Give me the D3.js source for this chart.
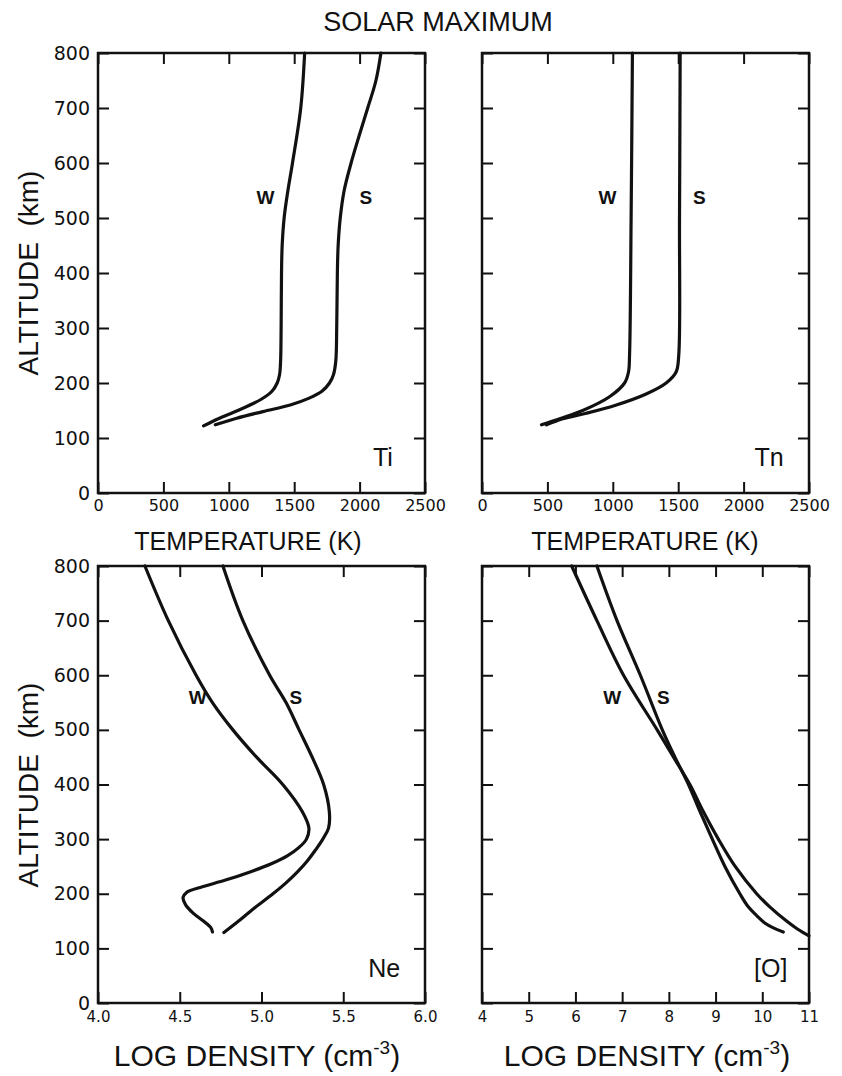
<!DOCTYPE html>
<html>
<head>
<meta charset="utf-8">
<script src="https://cdn.jsdelivr.net/npm/d3@7.9.0/dist/d3.min.js"></script>
<style>
  body { margin: 0; background: #fff; }
  text { fill: #111; }
  .lbl { font-family: "Liberation Sans", Arial, sans-serif; }
  .tick text { font-family: "DejaVu Sans", sans-serif; fill: #111; }
  .tick line { stroke: #111; stroke-width: 2; }
</style>
</head>
<body>
<script>
// axis ticks
const altTicks = [0, 100, 200, 300, 400, 500, 600, 700, 800];
const tempTicks = [0, 500, 1000, 1500, 2000, 2500];
const neTicks = [4.0, 4.5, 5.0, 5.5, 6.0];
const oTicks = [4, 5, 6, 7, 8, 9, 10, 11];

// Ti (K) vs altitude (km)
const tiWAlt = [800, 700, 600, 550, 500, 450, 400, 300, 240, 215, 200, 185, 170, 150, 135, 122];
const tiW    = [1580, 1550, 1487, 1452, 1423, 1408, 1403, 1400, 1396, 1388, 1370, 1330, 1245, 1070, 920, 807];
const tiSAlt = [800, 750, 700, 650, 600, 550, 500, 450, 400, 300, 240, 215, 200, 185, 172, 160, 148, 136, 124];
const tiS    = [2163, 2125, 2062, 1997, 1935, 1882, 1852, 1836, 1830, 1825, 1818, 1800, 1770, 1712, 1610, 1470, 1260, 1060, 897];

// Tn (K)
const tnWAlt = [800, 500, 250, 220, 200, 175, 150, 135, 124];
const tnW    = [1150, 1140, 1128, 1120, 1090, 975, 770, 594, 455];
const tnSAlt = [800, 500, 250, 220, 200, 180, 160, 145, 135, 124];
const tnS    = [1515, 1510, 1504, 1484, 1408, 1255, 1027, 798, 618, 493];

// log Ne
const neWAlt = [800, 700, 600, 550, 500, 450, 400, 350, 320, 300, 285, 270, 255, 240, 225, 212, 202, 193, 180, 165, 150, 138, 130];
const neW    = [4.287, 4.43, 4.60, 4.70, 4.825, 4.97, 5.13, 5.25, 5.29, 5.275, 5.23, 5.16, 5.06, 4.93, 4.78, 4.63, 4.54, 4.52, 4.535, 4.58, 4.645, 4.69, 4.70];
const neSAlt = [800, 700, 600, 550, 500, 450, 400, 350, 320, 300, 280, 260, 240, 220, 200, 170, 150, 129];
const neS    = [4.764, 4.886, 5.05, 5.15, 5.23, 5.31, 5.38, 5.415, 5.41, 5.375, 5.33, 5.28, 5.22, 5.15, 5.07, 4.94, 4.86, 4.77];

// log [O]
const oWAlt = [800, 700, 600, 500, 450, 400, 350, 300, 250, 200, 176, 150, 135, 123];
const oW    = [5.92, 6.46, 7.03, 7.75, 8.10, 8.45, 8.74, 9.06, 9.42, 9.88, 10.16, 10.52, 10.76, 11.0];
const oSAlt = [800, 700, 600, 500, 450, 400, 350, 300, 250, 200, 176, 160, 146, 137, 130];
const oS    = [6.46, 6.89, 7.39, 7.86, 8.13, 8.42, 8.67, 8.93, 9.20, 9.52, 9.70, 9.88, 10.06, 10.25, 10.45];

const svg = d3.select("body").append("svg")
  .attr("width", 842).attr("height", 1076);

function zip(alt, val) {
  return alt.map((a, i) => ({ alt: a, v: val[i] }));
}

function drawPanel(p) {
  const x = d3.scaleLinear().domain(p.xDomain).range([p.left, p.right]);
  const y = d3.scaleLinear().domain([0, 800]).range([p.bottom, p.top]);
  const g = svg.append("g");

  g.append("g").attr("transform", `translate(0,${p.bottom})`)
    .call(d3.axisBottom(x).tickValues(p.xTicks).tickSizeInner(-11).tickSizeOuter(0)
      .tickPadding(p.xPad).tickFormat(p.fmt))
    .call(s => s.select(".domain").remove())
    .call(s => s.selectAll(".tick text").attr("font-size", p.xFont));

  g.append("g").attr("transform", `translate(0,${p.top})`)
    .call(d3.axisTop(x).tickValues(p.xTicks).tickSizeInner(-11).tickSizeOuter(0).tickFormat(""))
    .call(s => s.select(".domain").remove());

  g.append("g").attr("transform", `translate(${p.left},0)`)
    .call(d3.axisLeft(y).tickValues(altTicks).tickSizeInner(-11).tickSizeOuter(0)
      .tickPadding(8).tickFormat(p.yLabels ? d3.format("d") : ""))
    .call(s => s.select(".domain").remove())
    .call(s => s.selectAll(".tick text").attr("font-size", 19));

  g.append("g").attr("transform", `translate(${p.right},0)`)
    .call(d3.axisRight(y).tickValues(altTicks).tickSizeInner(-11).tickSizeOuter(0).tickFormat(""))
    .call(s => s.select(".domain").remove());

  g.append("rect")
    .attr("x", p.left).attr("y", p.top)
    .attr("width", p.right - p.left).attr("height", p.bottom - p.top)
    .attr("fill", "none").attr("stroke", "#111").attr("stroke-width", 2.5);

  const line = d3.line()
    .x(d => x(d.v)).y(d => y(d.alt))
    .curve(d3.curveCatmullRom.alpha(0.5));

  p.curves.forEach(c => {
    g.append("path")
      .attr("d", line(c))
      .attr("fill", "none").attr("stroke", "#111")
      .attr("stroke-width", 3.2).attr("stroke-linecap", "round").attr("stroke-linejoin", "round");
  });

  p.marks.forEach(m => {
    g.append("text").attr("class", "lbl")
      .attr("x", x(m.v)).attr("y", y(m.alt)).attr("dy", "0.35em")
      .attr("text-anchor", "middle")
      .attr("font-size", m.size).attr("font-weight", m.bold ? "bold" : "normal")
      .text(m.t);
  });
}

const topRow = { top: 53, bottom: 493 };
const botRow = { top: 566, bottom: 1003 };
const leftCol = { left: 98, right: 425 };
const rightCol = { left: 482, right: 809 };

drawPanel({ ...topRow, ...leftCol, xDomain: [0, 2500], xTicks: tempTicks, fmt: d3.format("d"),
  xPad: 7, xFont: 16, yLabels: true,
  curves: [zip(tiWAlt, tiW), zip(tiSAlt, tiS)],
  marks: [{ t: "W", v: 1280, alt: 538, size: 19, bold: true },
          { t: "S", v: 2047, alt: 538, size: 19, bold: true },
          { t: "Ti", v: 2178, alt: 65, size: 25 }] });

drawPanel({ ...topRow, ...rightCol, xDomain: [0, 2500], xTicks: tempTicks, fmt: d3.format("d"),
  xPad: 7, xFont: 16, yLabels: false,
  curves: [zip(tnWAlt, tnW), zip(tnSAlt, tnS)],
  marks: [{ t: "W", v: 960, alt: 538, size: 19, bold: true },
          { t: "S", v: 1662, alt: 538, size: 19, bold: true },
          { t: "Tn", v: 2195, alt: 65, size: 25 }] });

drawPanel({ ...botRow, ...leftCol, xDomain: [4, 6], xTicks: neTicks, fmt: d3.format(".1f"),
  xPad: 8, xFont: 15, yLabels: true,
  curves: [zip(neWAlt, neW), zip(neSAlt, neS)],
  marks: [{ t: "W", v: 4.61, alt: 560, size: 19, bold: true },
          { t: "S", v: 5.21, alt: 560, size: 19, bold: true },
          { t: "Ne", v: 5.75, alt: 64, size: 25 }] });

drawPanel({ ...botRow, ...rightCol, xDomain: [4, 11], xTicks: oTicks, fmt: d3.format("d"),
  xPad: 8, xFont: 15, yLabels: false,
  curves: [zip(oWAlt, oW), zip(oSAlt, oS)],
  marks: [{ t: "W", v: 6.79, alt: 560, size: 19, bold: true },
          { t: "S", v: 7.88, alt: 560, size: 19, bold: true },
          { t: "[O]", v: 10.18, alt: 64, size: 25 }] });

// titles
svg.append("text").attr("class", "lbl")
  .attr("x", 438).attr("y", 31).attr("text-anchor", "middle")
  .attr("font-size", 27).text("SOLAR MAXIMUM");

[273, 785].forEach(cy => {
  svg.append("text").attr("class", "lbl")
    .attr("transform", `translate(38,${cy}) rotate(-90)`)
    .attr("text-anchor", "middle").attr("font-size", 28)
    .attr("xml:space", "preserve")
    .text("ALTITUDE  (km)");
});

[248, 645].forEach(cx => {
  svg.append("text").attr("class", "lbl")
    .attr("x", cx).attr("y", 550).attr("text-anchor", "middle")
    .attr("font-size", 25).text("TEMPERATURE (K)");
});

[257, 647].forEach(cx => {
  const t = svg.append("text").attr("class", "lbl")
    .attr("x", cx).attr("y", 1066).attr("text-anchor", "middle")
    .attr("font-size", 30);
  t.append("tspan").text("LOG DENSITY (cm");
  t.append("tspan").attr("dy", -12).attr("font-size", 19).text("-3");
  t.append("tspan").attr("dy", 12).text(")");
});
</script>
</body>
</html>
